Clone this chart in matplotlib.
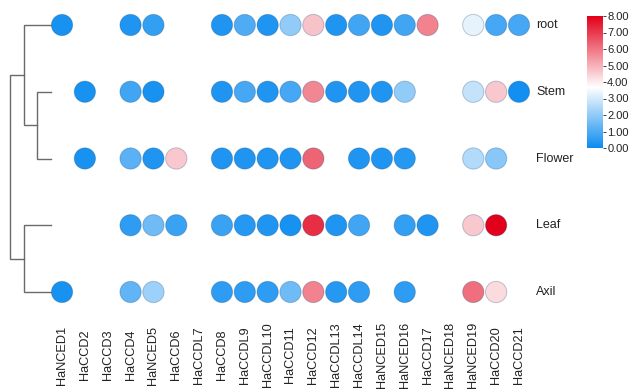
import numpy as np
import matplotlib
matplotlib.use("Agg")
import matplotlib.pyplot as plt
from matplotlib.colors import LinearSegmentedColormap, Normalize
from matplotlib.colorbar import ColorbarBase

plt.rcParams['font.family'] = ['Liberation Sans', 'DejaVu Sans']

nan = np.nan
genes = ["HaNCED1", "HaCCD2", "HaCCD3", "HaCCD4", "HaNCED5", "HaCCD6", "HaCCDL7",
         "HaCCD8", "HaCCDL9", "HaCCDL10", "HaCCD11", "HaCCD12", "HaCCDL13", "HaCCDL14",
         "HaNCED15", "HaNCED16", "HaCCD17", "HaNCED18", "HaNCED19", "HaCCD20", "HaCCD21"]
tissues = ["root", "Stem", "Flower", "Leaf", "Axil"]

root = [0.2, nan, nan, 0.3, 0.6, nan, nan, 0.3, 1.0, 0.3, 2.0, 4.7, 0.3, 0.8, 0.3, 0.8, 5.8, nan, 3.3, 0.9, 0.9]
stem = [nan, 0.2, nan, 0.8, 0.2, nan, nan, 0.3, 0.9, 0.3, 0.9, 5.7, 0.3, 0.3, 0.3, 2.0, nan, nan, 2.8, 4.6, 0.1]
flower = [nan, 0.2, nan, 1.2, 0.3, 4.6, nan, 0.3, 0.3, 0.3, 0.3, 6.3, nan, 0.3, 0.3, 0.4, nan, nan, 2.5, 1.9, nan]
leaf = [nan, nan, nan, 0.5, 1.5, 0.7, nan, 0.7, 0.4, 0.3, 0.2, 7.2, 0.3, 0.8, nan, 0.6, 0.3, nan, 4.6, 8.0, nan]
axil = [0.2, nan, nan, 1.3, 2.2, nan, nan, 0.5, 0.5, 0.5, 1.5, 5.8, 0.4, 0.5, nan, 0.5, nan, nan, 6.1, 4.3, nan]

# hierarchical clustering of tissues: (left, right, height); leaves are row indices
merges = [(1, 2, 1.0), (0, "SF", 2.0), (3, 4, 2.0), ("RSF", "LA", 3.0)]

cbar_ticks = [0, 1, 2, 3, 4, 5, 6, 7, 8]

W, H = 631, 389
fig = plt.figure(figsize=(W / 100, H / 100), dpi=100)

def px_axes(x0, y0, x1, y1):
    return fig.add_axes([x0 / W, 1 - y1 / H, (x1 - x0) / W, (y1 - y0) / H])

cmap = LinearSegmentedColormap.from_list(
    "bwr_expr", [(0.0, "#0C8CF0"), (0.46, "#FFFFFF"), (1.0, "#E2001A")])
norm = Normalize(0, 8)

# main dot matrix
ax = px_axes(50.6, 8, 530.4, 309)
data = np.array([root, stem, flower, leaf, axil])
yy, xx = np.nonzero(~np.isnan(data))
vals = data[yy, xx]
ax.scatter(xx, yy, c=vals, cmap=cmap, norm=norm, s=235,
           edgecolors=(0, 0.2, 0.4, 0.25), linewidths=0.7, zorder=3)
ax.set_xlim(-0.5, len(genes) - 0.5)
ax.set_ylim(4.255, -0.255)
ax.axis("off")
for i, g in enumerate(genes):
    ax.text(i, 4.255 + 46 / 66.75, g, rotation=90, ha="center", va="center",
            fontsize=9.2, color="#222222", clip_on=False)
for j, t in enumerate(tissues):
    ax.text(len(genes) - 0.5 + 6 / 22.85, j, t, ha="left", va="center",
            fontsize=9, color="#222222", clip_on=False)

# dendrogram
axd = px_axes(0, 8, 50.6, 309)
axd.set_ylim(4.255, -0.255)
axd.set_xlim(3.75, 0)
axd.axis("off")
pos = {i: (float(i), 0.0) for i in range(len(tissues))}
names = {(1, 2): "SF", (0, "SF"): "RSF", (3, 4): "LA", ("RSF", "LA"): "ALL"}
for a, b, h in merges:
    ya, ha = pos[a]
    yb, hb = pos[b]
    axd.plot([ha, h, h, hb], [ya, ya, yb, yb], color="#6a6a6a", lw=1.0,
             solid_joinstyle="miter", clip_on=False)
    pos[names[(a, b)]] = ((ya + yb) / 2, h)

# colorbar
cax = px_axes(587, 16, 603, 148)
cb = ColorbarBase(cax, cmap=cmap, norm=norm, ticks=cbar_ticks)
cb.outline.set_visible(False)
cb.ax.set_yticklabels([f"{t:.2f}" for t in cbar_ticks])
cb.ax.tick_params(labelsize=8, length=2, width=0.6, pad=1, colors="#222222")

fig.savefig("out.png", dpi=100)
